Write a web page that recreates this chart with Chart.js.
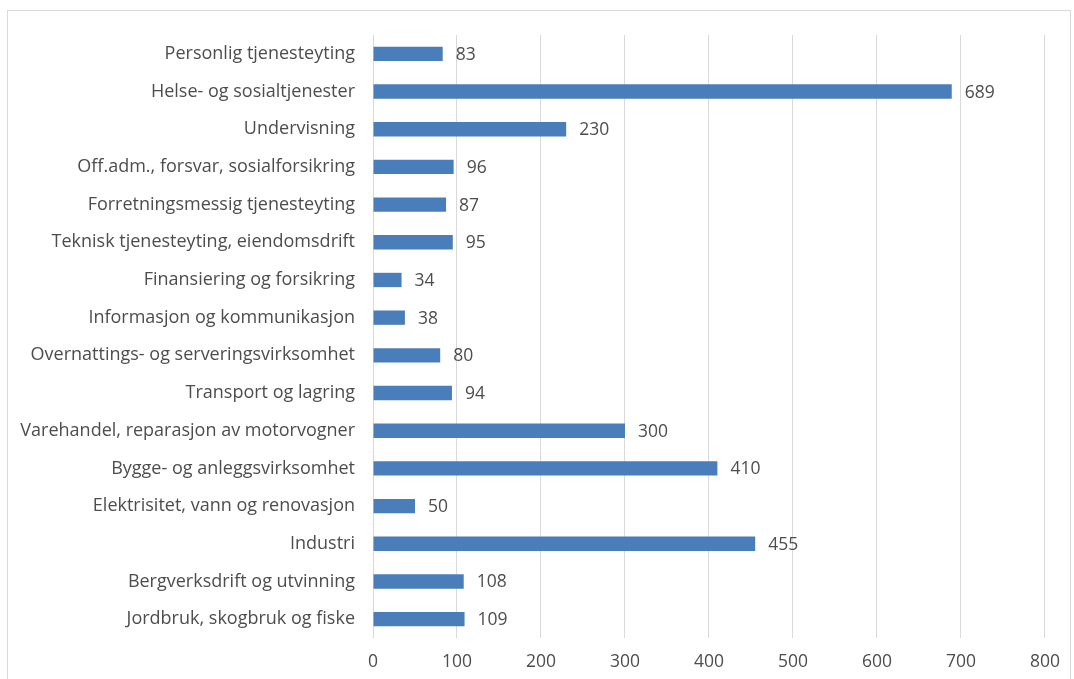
<!DOCTYPE html>
<html>
<head>
<meta charset="utf-8">
<script src="https://cdn.jsdelivr.net/npm/chart.js@4.4.0/dist/chart.umd.min.js"></script>
<style>
  html, body { margin: 0; padding: 0; background: #fff; overflow: hidden; }
  #wrap { position: relative; width: 1074px; height: 679px; }
  #frame { position: absolute; left: 7px; top: 10px; width: 1062px; height: 700px; border: 1px solid #d9d9d9; }
  canvas { position: absolute; left: 0; top: 0; }
</style>
</head>
<body>
<div id="wrap">
  <div id="frame"></div>
  <canvas id="chart" width="1074" height="679"></canvas>
</div>
<script>
const categories = [
  "Personlig tjenesteyting",
  "Helse- og sosialtjenester",
  "Undervisning",
  "Off.adm., forsvar, sosialforsikring",
  "Forretningsmessig tjenesteyting",
  "Teknisk tjenesteyting, eiendomsdrift",
  "Finansiering og forsikring",
  "Informasjon og kommunikasjon",
  "Overnattings- og serveringsvirksomhet",
  "Transport og lagring",
  "Varehandel, reparasjon av motorvogner",
  "Bygge- og anleggsvirksomhet",
  "Elektrisitet, vann og renovasjon",
  "Industri",
  "Bergverksdrift og utvinning",
  "Jordbruk, skogbruk og fiske"
];
const values = [83, 689, 230, 96, 87, 95, 34, 38, 80, 94, 300, 410, 50, 455, 108, 109];
const xMin = 0, xMax = 800, xStep = 100;

const fontFamily = "'Open Sans', sans-serif";
const textColor = '#4d4d4d';

// value labels to the right of each bar
const valueLabels = {
  id: 'valueLabels',
  afterDatasetsDraw(chart) {
    const ctx = chart.ctx;
    const meta = chart.getDatasetMeta(0);
    ctx.save();
    ctx.font = '17.5px ' + fontFamily;
    ctx.fillStyle = textColor;
    ctx.textAlign = 'left';
    ctx.textBaseline = 'middle';
    meta.data.forEach((bar, i) => {
      ctx.fillText(String(values[i]), bar.x + 13, bar.y + 1);
    });
    ctx.restore();
  }
};

new Chart(document.getElementById('chart').getContext('2d'), {
  type: 'bar',
  data: {
    labels: categories,
    datasets: [{
      data: values,
      backgroundColor: '#4a7ebb',
      borderWidth: 0,
      categoryPercentage: 1,
      barPercentage: 0.38
    }]
  },
  options: {
    indexAxis: 'y',
    responsive: false,
    animation: false,
    layout: { padding: { top: 35, right: 20, left: 0, bottom: 0 } },
    plugins: { legend: { display: false }, tooltip: { enabled: false } },
    scales: {
      x: {
        min: xMin, max: xMax,
        ticks: { stepSize: xStep, color: textColor, font: { family: fontFamily, size: 17.5 }, padding: 14 },
        grid: { color: '#d9d9d9', drawTicks: false },
        border: { display: false },
        afterFit(scale) { scale.height = 41; }
      },
      y: {
        ticks: { color: textColor, font: { family: fontFamily, size: 18 }, padding: 18, autoSkip: false },
        grid: { display: false, drawTicks: false },
        border: { display: false },
        afterFit(scale) { scale.width = 373; }
      }
    }
  },
  plugins: [valueLabels]
});
</script>
</body>
</html>
